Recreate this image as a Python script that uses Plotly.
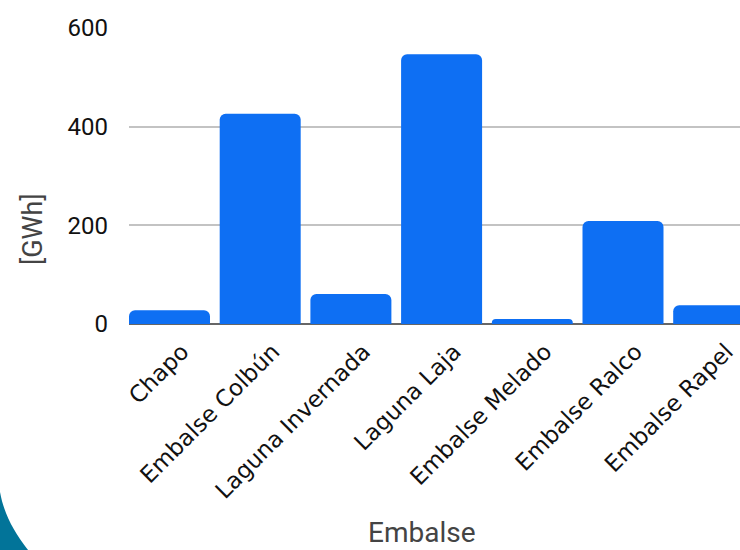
import plotly.graph_objects as go

# Energía embalsada por embalse
embalses = ["Chapo", "Embalse Colbún", "Laguna Invernada", "Laguna Laja",
            "Embalse Melado", "Embalse Ralco", "Embalse Rapel"]
energia_gwh = [28, 426, 61, 547, 10, 209, 38]
y_ticks = [0, 200, 400, 600]

W, H = 740, 550
M_L, M_R, M_T, M_B = 129, 0, 28, 226
BAR_W = 0.893
X_RANGE = [-BAR_W / 2, 6.29]
LABEL_SHIFT = 0.14  # category labels sit slightly right of the bar centres

pos = list(range(len(embalses)))

fig = go.Figure(
    go.Bar(
        x=pos,
        y=energia_gwh,
        width=BAR_W,
        marker=dict(color="#0E6FF3", cornerradius=6, line=dict(width=0)),
        hovertemplate="%{text}: %{y} GWh<extra></extra>",
        text=embalses,
        textposition="none",
    )
)

plot_w = W - M_L - M_R
plot_h = H - M_T - M_B


def px_to_paper(px, py):
    return (px - M_L) / plot_w, (H - M_B - py) / plot_h


# decorative arc in the lower-left corner
pts = [(-5, 490), (0, 492), (4, 514), (14, 533), (32, 555), (-5, 555)]
pp = [px_to_paper(a, b) for a, b in pts]
path = (f"M {pp[0][0]},{pp[0][1]} L {pp[1][0]},{pp[1][1]} "
        f"C {pp[2][0]},{pp[2][1]} {pp[3][0]},{pp[3][1]} {pp[4][0]},{pp[4][1]} "
        f"L {pp[5][0]},{pp[5][1]} Z")
fig.add_shape(type="path", path=path, xref="paper", yref="paper",
              fillcolor="#027499", line=dict(width=0), layer="above")

# axis titles
tx, ty = px_to_paper(422, 532)
fig.add_annotation(text="Embalse", xref="paper", yref="paper", x=tx, y=ty,
                   showarrow=False, xanchor="center", yanchor="middle",
                   font=dict(family="Roboto", size=28, color="#444444"))
gx, gy = px_to_paper(33, 229)
fig.add_annotation(text="[GWh]", xref="paper", yref="paper", x=gx, y=gy,
                   showarrow=False, xanchor="center", yanchor="middle",
                   textangle=-90,
                   font=dict(family="Roboto", size=27, color="#444444"))

# invisible helper trace so the label axis is drawn
fig.add_trace(go.Scatter(x=[X_RANGE[0]], y=[0], xaxis="x2", mode="markers",
                         marker=dict(opacity=0), hoverinfo="skip",
                         showlegend=False))

fig.update_layout(
    width=W, height=H,
    margin=dict(l=M_L, r=M_R, t=M_T, b=M_B, pad=0),
    paper_bgcolor="white", plot_bgcolor="white",
    showlegend=False,
    xaxis=dict(
        range=X_RANGE,
        showgrid=False, zeroline=False, showline=False,
        showticklabels=False, ticks="",
    ),
    xaxis2=dict(
        overlaying="x", side="bottom",
        range=X_RANGE,
        tickmode="array",
        tickvals=[p + LABEL_SHIFT for p in pos],
        ticktext=embalses,
        tickangle=-45,
        showgrid=False, zeroline=False, showline=False,
        ticks="outside", ticklen=4, tickcolor="rgba(0,0,0,0)",
        tickfont=dict(family="DejaVu Sans", size=23, color="#111111"),
    ),
    yaxis=dict(
        range=[0, 600],
        tickmode="array", tickvals=y_ticks,
        showgrid=True, gridcolor="#C3C3C3", gridwidth=1.5,
        zeroline=True, zerolinecolor="#666666", zerolinewidth=1.5,
        showline=False,
        ticklabelstandoff=20,
        tickfont=dict(family="Roboto", size=24, color="#111111"),
    ),
)

fig.write_html("out.html")
